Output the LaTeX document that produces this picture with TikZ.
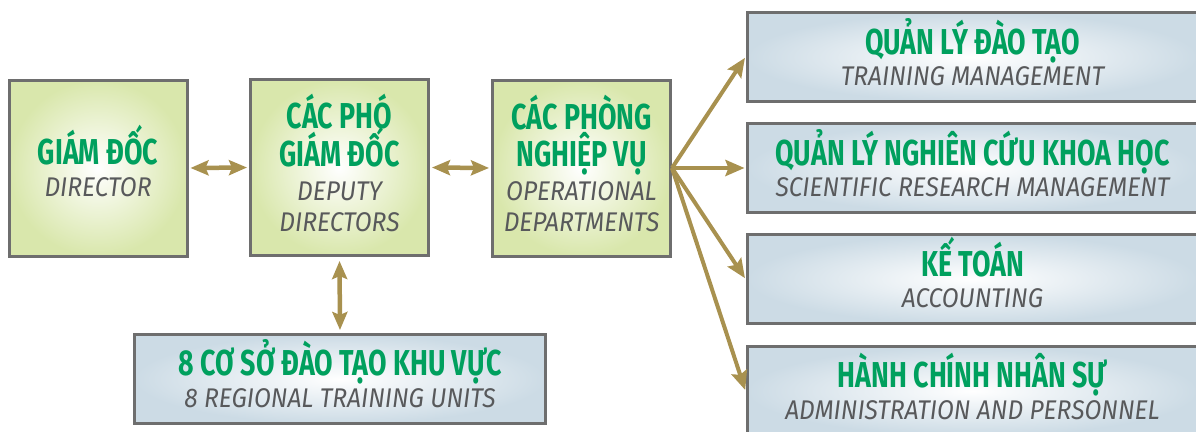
\documentclass[tikz,border=0pt]{standalone}
\usepackage{fontspec}
\usetikzlibrary{arrows.meta}
\newfontfamily\headfont[FakeStretch=0.745]{Fira Sans}
\newfontfamily\engfont[FakeStretch=0.91]{Fira Sans}
\definecolor{headgreen}{HTML}{00A05E}
\definecolor{subgray}{HTML}{58595B}
\definecolor{frame}{HTML}{6E6E6E}
\definecolor{gold}{HTML}{A8914F}
\definecolor{leafout}{HTML}{D9E7AC}
\definecolor{skyout}{HTML}{CCDBE5}
% each line gets a fixed cap-height strut so the spacing is exact
\newcommand\hd[1]{{\headfont\bfseries\fontsize{36}{38}\selectfont\color{headgreen}\smash{#1}\rule{0pt}{25pt}}}
\newcommand\eng[1]{{\engfont\itshape\fontsize{27}{31}\selectfont\color{subgray}\smash{#1}\rule{0pt}{19pt}}}
\begin{document}
\begin{tikzpicture}[x=1pt,y=-1pt,
  box/.style={draw=frame,line width=3pt,inner sep=0pt,align=center,
    font=\fontsize{20}{31}\selectfont},
  leaf/.style={box,inner color=white,outer color=leafout,
    minimum width=178pt,minimum height=176pt},
  sky/.style={box,inner color=white,outer color=skyout,minimum height=89pt},
  both/.style={draw=gold,line width=4.5pt,{Stealth[length=18pt,width=15pt,inset=3pt]}-{Stealth[length=18pt,width=15pt,inset=3pt]}},
  link/.style={draw=gold,line width=4pt,-{Stealth[length=19pt,width=16pt,inset=3pt]}}]
\useasboundingbox (0,0) rectangle (1196,431);

% main line of command
\node[leaf] (dir) at (98,168) {\hd{GIÁM ĐỐC}\\[1pt]\eng{DIRECTOR}};
\node[leaf] (dep) at (339.5,167.5) {\hd{CÁC PHÓ}\\[7pt]\hd{GIÁM ĐỐC}\\[3pt]\eng{DEPUTY}\\\eng{DIRECTORS}};
\node[leaf] (ops) at (581.5,168) {\hd{CÁC PHÒNG}\\[6pt]\hd{NGHIỆP VỤ}\\[3pt]\eng{OPERATIONAL}\\\eng{DEPARTMENTS}};

% regional units
\node[sky,minimum width=411pt] (reg) at (340,379) {\hd{8 CƠ SỞ ĐÀO TẠO KHU VỰC}\\[1pt]\eng{8 REGIONAL TRAINING UNITS}};

% departments
\node[sky,minimum width=451pt] (train) at (972.5,57) {\hd{QUẢN LÝ ĐÀO TẠO}\\[0pt]\eng{TRAINING MANAGEMENT}};
\node[sky,minimum width=451pt] (res) at (972.5,168) {\hd{QUẢN LÝ NGHIÊN CỨU KHOA HỌC}\\[0pt]\eng{SCIENTIFIC RESEARCH MANAGEMENT}};
\node[sky,minimum width=451pt] (acc) at (972.5,279) {\hd{KẾ TOÁN}\\[0pt]\eng{ACCOUNTING}};
\node[sky,minimum width=451pt] (adm) at (972.5,391) {\hd{HÀNH CHÍNH NHÂN SỰ}\\[1pt]\eng{ADMINISTRATION AND PERSONNEL}};

% connectors
\draw[both,shorten <=2pt,shorten >=2pt] (dir.east) -- (dep.west);
\draw[both,shorten <=2pt,shorten >=2pt] (dep.east) -- (ops.west);
\draw[both,shorten <=4pt,shorten >=3pt] (dep.south) -- (reg.north);
\draw[link,shorten >=1pt] (ops.east) -- (train.west);
\draw[link,shorten >=1pt] (ops.east) -- (res.west);
\draw[link,shorten >=1pt] (ops.east) -- (acc.west);
\draw[link,shorten >=1pt] (ops.east) -- (adm.west);
\end{tikzpicture}
\end{document}
